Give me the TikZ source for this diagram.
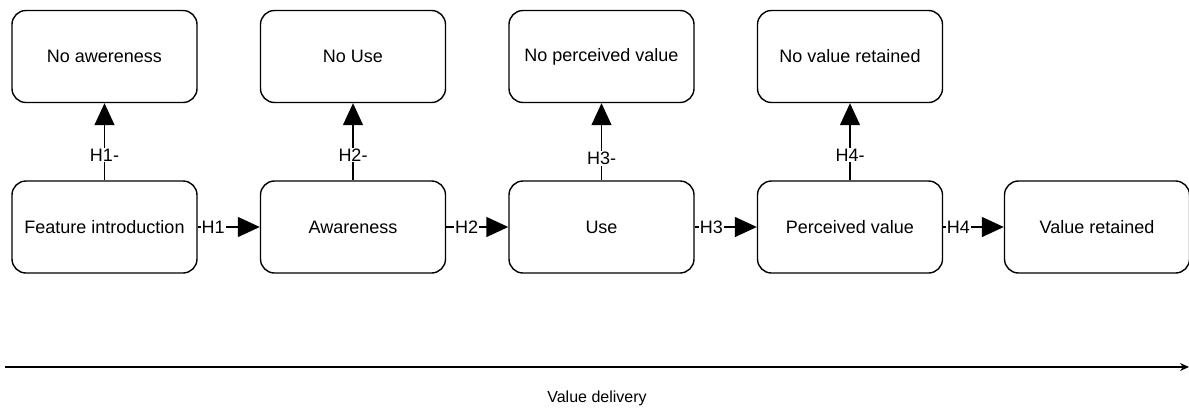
\documentclass[tikz,border=0pt]{standalone}
\usepackage{fontspec}
\setmainfont{Liberation Sans}
\usetikzlibrary{arrows.meta}
\begin{document}
\begin{tikzpicture}[x=1pt,y=-1pt,
  box/.style={draw=black,line width=1.4pt,rounded corners=14pt,minimum width=185pt,minimum height=92pt,inner sep=0pt,font=\fontsize{18}{20}\selectfont,fill=white},
  conn/.style={line width=1.4pt,-{Triangle[length=22pt,width=20pt]}},
  lab/.style={fill=white,inner sep=1pt,font=\fontsize{18}{20}\selectfont}]
\useasboundingbox (0,0) rectangle (1189,410);
% bottom row
\node[box] (b1) at (104.5,227) {Feature introduction};
\node[box] (b2) at (353,227) {Awareness};
\node[box] (b3) at (601.5,227) {Use};
\node[box] (b4) at (850,227) {Perceived value};
\node[box] (b5) at (1097,227) {Value retained};
% top row
\node[box] (t1) at (104.5,56.5) {No awereness};
\node[box] (t2) at (353,56.5) {No Use};
\node[box] (t3) at (601.5,56.5) {No perceived value};
\node[box] (t4) at (850,56.5) {No value retained};
% horizontal connectors
\draw[conn] (b1) -- (b2) node[lab,pos=0.25] {H1};
\draw[conn] (b2) -- (b3) node[lab,pos=0.33] {H2};
\draw[conn] (b3) -- (b4) node[lab,pos=0.27] {H3};
\draw[conn] (b4) -- (b5) node[lab,pos=0.25] {H4};
% vertical connectors
\draw[conn] (b1) -- (t1) node[lab,pos=0.33] {H1-};
\draw[conn] (b2) -- (t2) node[lab,pos=0.33] {H2-};
\draw[conn] (b3) -- (t3) node[lab,pos=0.28] {H3-};
\draw[conn] (b4) -- (t4) node[lab,pos=0.33] {H4-};
% value delivery axis
\coordinate (a0) at (5,367);
\coordinate (a1) at (1189,367);
\draw[line width=1.4pt,-{Stealth[length=9pt,width=8pt]}] (a0) -- (a1);
\node[font=\fontsize{16}{18}\selectfont] (vd) at (597,398) {Value delivery};
\end{tikzpicture}
\end{document}
